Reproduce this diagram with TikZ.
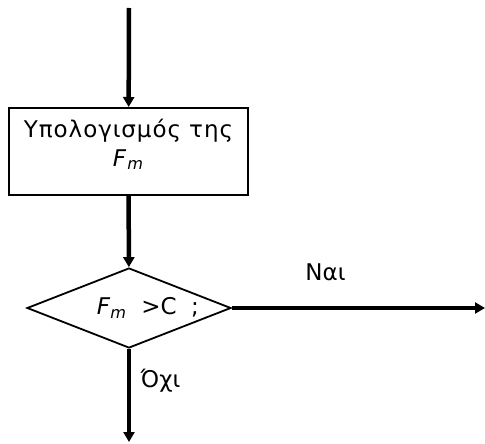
\documentclass[tikz,border=0pt]{standalone}
\usepackage{fontspec}
\setmainfont{DejaVu Sans}
\newfontfamily\spacedfont[LetterSpace=4]{DejaVu Sans}
\usetikzlibrary{shapes.geometric,arrows.meta}

\tikzset{
  flow/.style={-{Triangle[length=10pt,width=11pt]},line width=4.5pt},
}
\newcommand{\Fmsym}{\textit{F}\textsubscript{\textit{m}}}

\begin{document}
\begin{tikzpicture}[x=1pt,y=-1pt,font=\fontsize{23}{29}\selectfont]
  \useasboundingbox (0,0) rectangle (485,444);
  \coordinate (start) at (129,8);
  \node (calc) at (128.5,151.5) [draw,line width=2pt,minimum width=239pt,minimum height=87pt,inner sep=0pt,align=center,font=\spacedfont\fontsize{23}{29}\selectfont] {Υπολογισμός της\\ \Fmsym\rule[-18pt]{0pt}{0pt}};
  \node (test) at (129,308) [draw,diamond,aspect=2.55,line width=1.8pt,minimum width=204pt,minimum height=80pt,inner sep=0pt] {\hspace{38pt}\Fmsym\ \ >C\ \ ;};
  \coordinate (yesend) at (485,308);
  \coordinate (noend) at (129,442);
  \draw[flow] (start) -- (calc);
  \draw[flow] (calc) -- (test);
  \draw[flow] (test) -- (yesend) node [pos=0.37,above=22pt] {Ναι};
  \draw[flow] (test) -- (noend) node [pos=0.34,right=6pt] {Όχι};
\end{tikzpicture}
\end{document}
